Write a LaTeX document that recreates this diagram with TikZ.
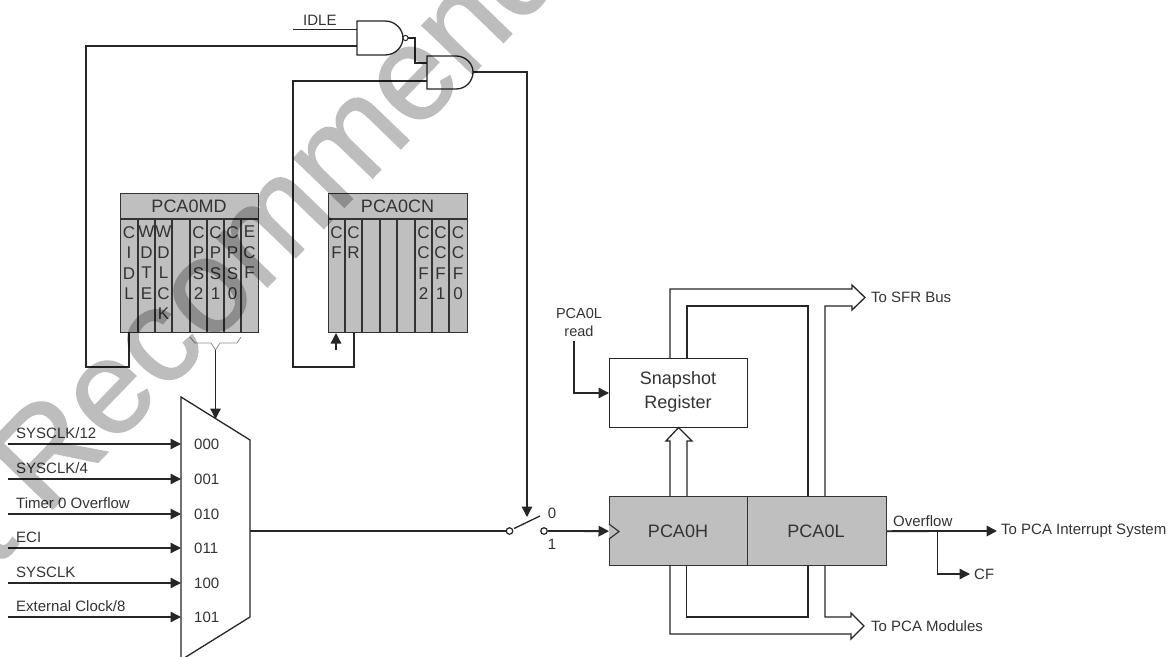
\documentclass[tikz,border=0pt]{standalone}
\usepackage{fontspec}
\setmainfont{Liberation Sans}
\newfontfamily\wmfont[FakeBold=1.1]{Liberation Sans}
\usetikzlibrary{arrows.meta}
\tikzset{
  wire/.style={draw=black!85,line width=1.3pt,line join=miter},
  heavy/.style={line width=1.8pt},
  flow/.style={wire,-{Triangle[length=10.5pt,width=10.5pt]}},
  regfill/.style={draw=black!80,line width=1.3pt,fill=regray,inner sep=0pt,anchor=north west},
  whitebox/.style={draw=black!85,line width=1.3pt,fill=white,inner sep=0pt,anchor=north west,align=center},
  small/.style={font=\fontsize{15}{17}\selectfont,text=black!80,inner sep=0pt},
  lbl/.style={small,anchor=west},
  big/.style={font=\fontsize{18}{24}\selectfont,text=black!80,inner sep=0pt},
  bitcol/.style={font=\fontsize{17}{20.5}\selectfont,text=black!80,inner sep=0pt,align=center,anchor=north},
  divider/.style={draw=black!80,line width=1.2pt},
  brace/.style={draw=black!45,line width=.8pt},
  portpt/.style={circle,draw=black!85,line width=1.2pt,fill=white,minimum size=6.5pt,inner sep=0pt},
}
\definecolor{regray}{gray}{0.75}
\begin{document}
\begin{tikzpicture}[x=1pt,y=-1pt]
\useasboundingbox (0,0) rectangle (1170,656);
\fill[white] (0,0) rectangle (1170,656);
\begin{scope}
\clip (0,0) rectangle (1170,656);

% --- registers
\node[regfill,minimum width=138pt,minimum height=139pt] (md) at (120,193) {};
\node[regfill,minimum width=139pt,minimum height=139pt] (cn) at (328,193) {};
\draw[divider] (120,219) -- (258,219);
\draw[divider] (328,219) -- (467,219);
\foreach \x in {138,155,172,190,207,224,241} \draw[divider] (\x,219) -- (\x,332);
\foreach \x in {345,362,380,397,415,432,449} \draw[divider] (\x,219) -- (\x,332);
\node[big] (mdt) at (189,206) {PCA0MD};
\node[big] (cnt) at (397.5,206) {PCA0CN};
\node[bitcol] (b1) at (129,226) {C\\I\\D\\L};
\node[bitcol] (b2) at (146.5,226) {W\\D\\T\\E};
\node[bitcol] (b3) at (163.5,226) {W\\D\\L\\C\\K};
\node[bitcol] (b4) at (198.5,226) {C\\P\\S\\2};
\node[bitcol] (b5) at (215.5,226) {C\\P\\S\\1};
\node[bitcol] (b6) at (232.5,226) {C\\P\\S\\0};
\node[bitcol] (b7) at (249.5,226) {E\\C\\F};
\node[bitcol] (c1) at (336.5,226) {C\\F};
\node[bitcol] (c2) at (353.5,226) {C\\R};
\node[bitcol] (c3) at (423.5,226) {C\\C\\F\\2};
\node[bitcol] (c4) at (440.5,226) {C\\C\\F\\1};
\node[bitcol] (c5) at (458,226) {C\\C\\F\\0};

% --- gates
\coordinate (nandIn1) at (357,29.5);
\coordinate (nandIn2) at (357,46);
\coordinate (nandOut) at (408,38);
\coordinate (andIn1) at (427,63);
\coordinate (andIn2) at (427,81);
\coordinate (andOut) at (473,72);
\draw[wire,fill=white] (357,21) -- (385,21) .. controls (396,21) and (403,30) .. (403,38)
  .. controls (403,46) and (396,55) .. (385,55) -- (357,55) -- cycle;
\draw[wire,fill=white,line width=1pt] (405.5,38) circle (2.6);
\draw[wire,fill=white] (427,56) -- (456,56) .. controls (466,56) and (473,64) .. (473,72)
  .. controls (473,81) and (466,89) .. (456,89) -- (427,89) -- cycle;
\coordinate (idleStart) at (293,29.5);
\node[small,anchor=base west] (idle) at (303,25) {IDLE};
\draw[wire] (idleStart) -- (nandIn1);
\draw[wire] (nandOut) -- (415,38) -- (415,63) -- (andIn1);

% --- feedback
\coordinate (cidl) at (129,332);
\coordinate (cr) at (354,332);
\coordinate (cfArrowStart) at (336,350);
\coordinate (cfArrowEnd) at (336,333);
\draw[wire] (cidl) -- (129,367) -- (86,367) -- (86,46) -- (nandIn2);
\draw[wire] (cr) -- (354,367) -- (293,367) -- (293,81) -- (andIn2);
\draw[flow] (cfArrowStart) -- (cfArrowEnd);

% --- brace
\coordinate (braceTip) at (215.5,350);
\draw[brace] (190,337) -- (195,343) -- (211,343) -- (braceTip) -- (220,343) -- (237,343) -- (241,337);

% --- mux
\draw[wire,fill=white] (181,397) -- (250,440) -- (250,617) -- (181,660) -- cycle;
\coordinate (muxSel) at (215.5,419);
\draw[flow] (braceTip) -- (muxSel);
\foreach \y/\s/\t/\n in {
  444/SYSCLK\slash12/000/a,
  479/SYSCLK\slash4/001/b,
  514/Timer 0 Overflow/010/c,
  548/ECI/011/d,
  583/SYSCLK/100/e,
  617/External Clock\slash8/101/f}{
  \coordinate (in\n) at (8,\y);
  \coordinate (mux\n) at (181,\y);
  \draw[flow] (in\n) -- (mux\n);
  \node[lbl] (lab\n) at (16,\y-10.5) {\s};
  \node[lbl] (sel\n) at (194,\y) {\t};
}
\coordinate (muxOut) at (250,531);

% --- counter and snapshot
\node[regfill,minimum width=138pt,minimum height=69pt] (hi) at (609,496) {};
\node[regfill,minimum width=138.5pt,minimum height=69pt] (lo) at (747,496) {};
\node[big] (hit) at (678,531) {PCA0H};
\node[big] (lot) at (816,531) {PCA0L};
\draw[divider,fill=regray] (609,524) -- (619,531.5) -- (609,539);
\node[whitebox,minimum width=138pt,minimum height=69pt] (snap) at (609,358) {};
\node[big,align=center,font=\fontsize{18}{24}\selectfont] (snapt) at (678,392) {Snapshot\\Register};

% --- switch
\node[portpt] (swa) at (509.5,531) {};
\node[portpt] (swb) at (544,531) {};
\coordinate (swTop) at (527,517);
\draw[wire,heavy] (muxOut) -- (swa);
\draw[wire] (514,528.5) -- (540,516);
\draw[flow] (andOut) -- (527,72) -- (swTop);
\draw[flow,heavy] (swb) -- (hi.west);
\node[small] (sw0) at (552,513) {0};
\node[small] (sw1) at (552,544) {1};

% --- PCA0L read
\node[small,align=center,font=\fontsize{14.5}{18}\selectfont] (rd) at (579,323) {PCA0L\\read};
\coordinate (rdStart) at (574,341);
\draw[flow] (rdStart) -- (574,393) -- (609,393);

% --- buses
\draw[wire] (670,358) -- (670,289) -- (852,289) -- (852,285) -- (865,297.5) -- (852,310) -- (852,306) -- (825,306) -- (825,496);
\draw[wire] (687,358) -- (687,306) -- (808,306) -- (808,496);
\draw[wire] (670,565) -- (670,634) -- (851,634) -- (851,639) -- (864,626) -- (851,613) -- (851,617) -- (825,617) -- (825,565);
\draw[wire] (686.5,565) -- (686.5,617) -- (808,617) -- (808,565);
\draw[wire] (670,496) -- (670,441) -- (666,441) -- (678.5,427.5) -- (692,441) -- (687,441) -- (687,496);
\node[lbl] (sfr) at (871,297) {To SFR Bus};
\node[lbl] (mods) at (871,626) {To PCA Modules};

% --- outputs
\coordinate (intEnd) at (997,531);
\coordinate (cfEnd) at (970,574);
\draw[flow,heavy] (lo.east) -- (intEnd);
\draw[flow] (937.5,531) -- (937.5,574) -- (cfEnd);
\node[lbl] (ovf) at (893,521) {Overflow};
\node[lbl] (int) at (1001,531) {To PCA Interrupt System};
\node[lbl] (cft) at (974,574) {CF};

% --- watermark
\begin{scope}[transparency group,opacity=.26]
\node[rotate=46,font=\wmfont\fontsize{133}{133}\selectfont,text=black,inner sep=0pt,anchor=base] (wm) at (274,280) {Not Recommended};
\end{scope}
\end{scope}
\end{tikzpicture}
\end{document}
